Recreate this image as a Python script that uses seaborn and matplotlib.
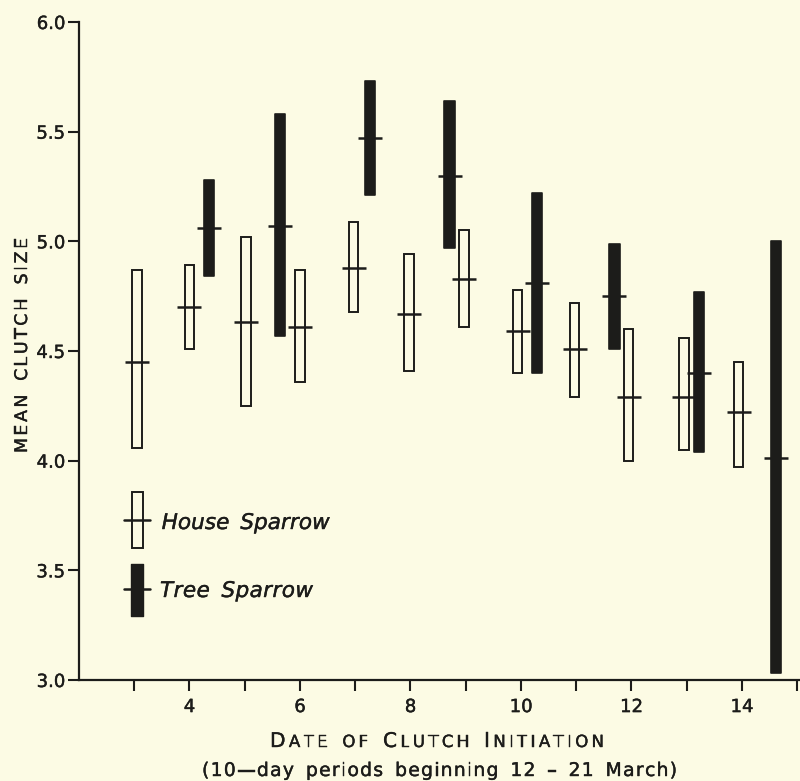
# Clutch size of House and Tree Sparrows by date of clutch initiation
import matplotlib
matplotlib.use("Agg")
import numpy as np
import pandas as pd
import matplotlib.pyplot as plt
import matplotlib.patheffects as pe
import seaborn as sns
from matplotlib.patches import Rectangle
from matplotlib.font_manager import FontProperties
from matplotlib.transforms import IdentityTransform

# ------------------------------------------------------------
# Data
# ------------------------------------------------------------
house_x = [3.05, 4.0, 5.02, 6.0, 6.97, 7.97, 8.97, 9.94, 10.97, 11.95, 12.95, 13.94]
house_mean = [4.45, 4.70, 4.63, 4.61, 4.88, 4.67, 4.83, 4.59, 4.51, 4.29, 4.29, 4.22]
house_low = [4.06, 4.51, 4.25, 4.36, 4.68, 4.41, 4.61, 4.40, 4.29, 4.00, 4.05, 3.97]
house_high = [4.87, 4.89, 5.02, 4.87, 5.09, 4.94, 5.05, 4.78, 4.72, 4.60, 4.56, 4.45]

tree_x = [4.35, 5.64, 7.27, 8.71, 10.29, 11.69, 13.22, 14.62]
tree_mean = [5.06, 5.07, 5.47, 5.30, 4.81, 4.75, 4.40, 4.01]
tree_low = [4.84, 4.57, 5.21, 4.97, 4.40, 4.51, 4.04, 3.03]
tree_high = [5.28, 5.58, 5.73, 5.64, 5.22, 4.99, 4.77, 5.00]

y_ticks = [3.0, 3.5, 4.0, 4.5, 5.0, 5.5, 6.0]
x_major = [4, 6, 8, 10, 12, 14]
x_minor = [3, 5, 7, 9, 11, 13, 15]

ink = "#1c1c1a"
paper = "#fcfbe4"
heavier = [pe.withStroke(linewidth=0.3, foreground=ink)]

# ------------------------------------------------------------
# Style
# ------------------------------------------------------------
sns.set_style("ticks")
plt.rcParams["font.family"] = ["DejaVu Sans"]

fig = plt.figure(figsize=(8, 7.81), dpi=100, facecolor=paper)
ax = fig.add_axes([79 / 800, 101 / 781, 721 / 800, 658 / 781])
ax.set_facecolor(paper)

# ------------------------------------------------------------
# Range bars
# ------------------------------------------------------------
ax.bar(house_x, np.subtract(house_high, house_low), bottom=house_low,
       width=0.17, facecolor=paper, edgecolor=ink, linewidth=1.4, zorder=2)
ax.bar(tree_x, np.subtract(tree_high, tree_low), bottom=tree_low,
       width=0.19, facecolor=ink, edgecolor=ink, linewidth=1.2,
       joinstyle="round", zorder=2)

means = pd.concat([
    pd.DataFrame({"x": house_x, "mean": house_mean, "species": "House Sparrow"}),
    pd.DataFrame({"x": tree_x, "mean": tree_mean, "species": "Tree Sparrow"}),
])
sns.scatterplot(data=means, x="x", y="mean", marker="_", s=300,
                color=ink, linewidth=1.8, legend=False, ax=ax, zorder=3)

# ------------------------------------------------------------
# Axes
# ------------------------------------------------------------
ax.set_xlim(2, 15.05)
ax.set_ylim(3, 6)
sns.despine(ax=ax)
for side in ["left", "bottom"]:
    ax.spines[side].set_linewidth(1.6)
    ax.spines[side].set_color(ink)

ax.set_yticks(y_ticks)
ax.set_yticklabels([f"{v:.1f}" for v in y_ticks])
ax.set_xticks(x_major)
ax.set_xticklabels([str(v) for v in x_major])
ax.set_xticks(x_minor, minor=True)
ax.tick_params(which="both", direction="out", length=8, width=1.5,
               color=ink, labelcolor=ink, labelsize=13)
ax.tick_params(axis="y", pad=2)
ax.tick_params(axis="x", which="both", pad=5)
for lab in ax.get_xticklabels() + ax.get_yticklabels():
    lab.set_path_effects(heavier)
ax.set_xlabel("")
ax.set_ylabel("")

# ------------------------------------------------------------
# Key drawn inside the plot
# ------------------------------------------------------------
ax.add_patch(Rectangle((0.0735, 0.200), 0.0153, 0.086, transform=ax.transAxes,
                       facecolor=paper, edgecolor=ink, linewidth=1.4, zorder=4))
ax.plot([0.0624, 0.0985], [0.243, 0.243], transform=ax.transAxes,
        color=ink, linewidth=1.8, zorder=5)
ax.add_patch(Rectangle((0.0728, 0.097), 0.0166, 0.080, transform=ax.transAxes,
                       facecolor=ink, edgecolor=ink, linewidth=1.0,
                       joinstyle="round", zorder=4))
ax.plot([0.0624, 0.0985], [0.139, 0.139], transform=ax.transAxes,
        color=ink, linewidth=1.8, zorder=5)


# ------------------------------------------------------------
# Lettering with extra letter spacing (placed in pixels)
# ------------------------------------------------------------
def tracked(text, x, y, sizes, width, rotation=0, style="normal"):
    r = fig.canvas.get_renderer()
    props = [FontProperties(family="DejaVu Sans", size=s, style=style) for s in sizes]
    widths = []
    for ch, p in zip(text, props):
        if ch == " ":
            widths.append(0.5 * p.get_size_in_points() * fig.dpi / 72)
        else:
            widths.append(r.get_text_width_height_descent(ch, p, ismath=False)[0])
    gap = (width - sum(widths)) / (len(text) - 1)
    pos = 0.0
    for ch, p, w in zip(text, props, widths):
        if ch != " ":
            if rotation == 0:
                t = fig.text(x + pos, y, ch, fontproperties=p, color=ink,
                             ha="left", va="baseline", transform=IdentityTransform())
            else:
                t = fig.text(x, y + pos, ch, fontproperties=p, color=ink,
                             rotation=90, rotation_mode="anchor",
                             ha="left", va="baseline", transform=IdentityTransform())
            t.set_path_effects(heavier)
        pos += w + gap


def small_caps(text, big, small, caps_at):
    sizes = []
    for i, ch in enumerate(text):
        first = (i == 0 or text[i - 1] == " ")
        word = text[i:].split(" ")[0]
        sizes.append(big if first and word in caps_at else small)
    return sizes


H = 781
ylab = "MEAN CLUTCH SIZE"
tracked(ylab, 27, H - 453, [12.5] * len(ylab), 215, rotation=90)

xlab1 = "DATE OF CLUTCH INITIATION"
tracked(xlab1, 270, H - 747,
        small_caps(xlab1, 14.5, 12, ["DATE", "CLUTCH", "INITIATION"]), 334)

xlab2 = "(10\u2014day periods beginning 12 \u2013 21 March)"
tracked(xlab2, 202, H - 776, [13.5] * len(xlab2), 475)

leg1 = "House Sparrow"
tracked(leg1, 161.7, H - 529, [15.5] * len(leg1), 168, style="italic")
leg2 = "Tree Sparrow"
tracked(leg2, 160, H - 597, [15.5] * len(leg2), 153, style="italic")

fig.savefig("out.png", dpi=100, facecolor=paper)
